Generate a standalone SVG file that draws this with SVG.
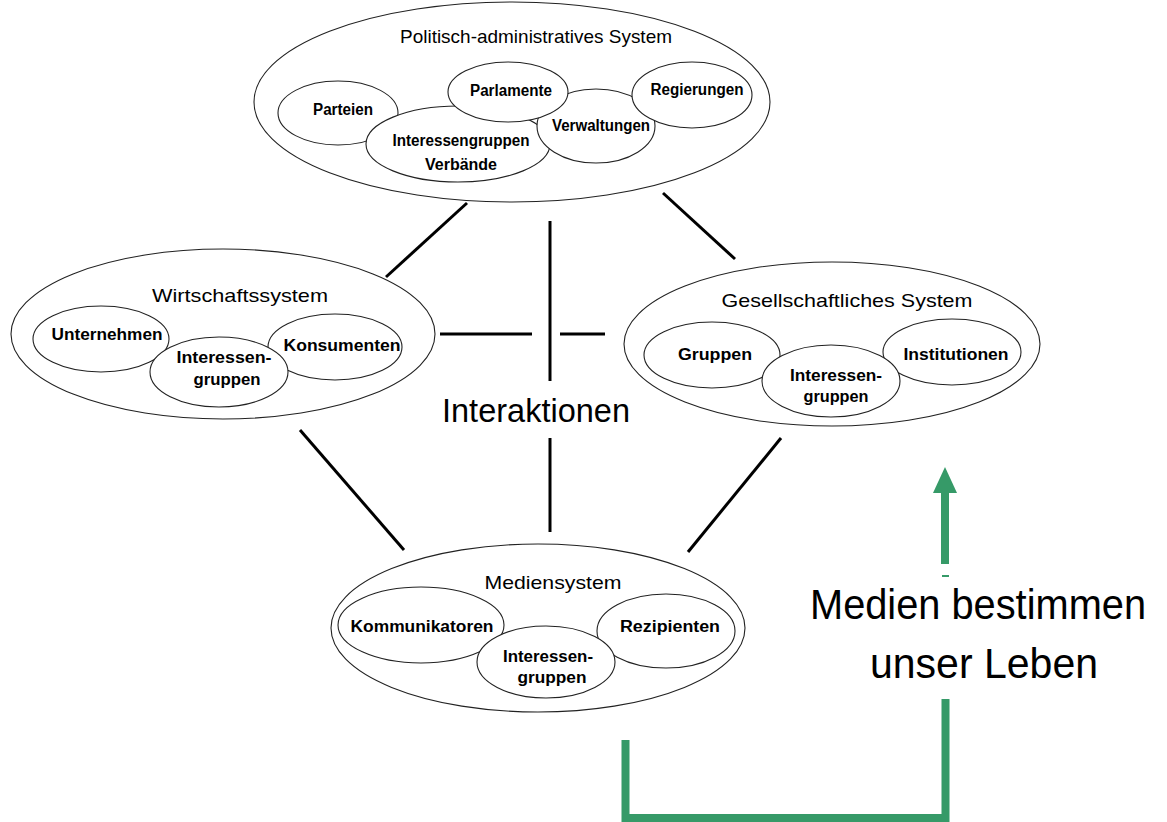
<svg xmlns="http://www.w3.org/2000/svg" width="1167" height="822" viewBox="0 0 1167 822">
  <style>
    .outer { fill: #ffffff; stroke: #222222; stroke-width: 1.1; }
    .inner { fill: #ffffff; stroke: #222222; stroke-width: 1.1; }
    .title { font-family: "Liberation Sans", Arial, sans-serif; font-size: 19px; fill: #000000; text-anchor: middle; }
    .label { font-family: "Liberation Sans", Arial, sans-serif; font-size: 16px; font-weight: bold; fill: #000000; text-anchor: middle; }
    .link { stroke: #000000; stroke-width: 3; fill: none; }
    .big { font-family: "Liberation Sans", Arial, sans-serif; fill: #000000; text-anchor: middle; }
    .green { stroke: #369a68; stroke-width: 8; fill: none; }
  </style>
  <rect width="1167" height="822" fill="#ffffff"/>

  <!-- interaction lines between the systems -->
  <g id="connectors">
    <line class="link" x1="467" y1="203" x2="386" y2="277"/>
    <line class="link" x1="663" y1="193" x2="735" y2="259"/>
    <line class="link" x1="550" y1="221" x2="550" y2="381"/>
    <line class="link" x1="440" y1="334" x2="532" y2="334"/>
    <line class="link" x1="560" y1="334" x2="605" y2="334"/>
    <line class="link" x1="550" y1="438" x2="550" y2="532"/>
    <line class="link" x1="300" y1="430" x2="404" y2="550"/>
    <line class="link" x1="781" y1="438" x2="688" y2="552"/>
  </g>

  <!-- political-administrative system -->
  <g id="politik">
    <ellipse class="outer" cx="512" cy="102" rx="258" ry="100"/>
    <text class="title" x="536" y="43" textLength="272" lengthAdjust="spacingAndGlyphs">Politisch-administratives System</text>
    <ellipse class="inner" cx="338" cy="113" rx="60" ry="32"/>
    <ellipse class="inner" cx="458" cy="144" rx="92" ry="38"/>
    <ellipse class="inner" cx="596" cy="126" rx="59" ry="37"/>
    <ellipse class="inner" cx="508" cy="92" rx="60" ry="30"/>
    <ellipse class="inner" cx="692" cy="95" rx="60" ry="33"/>
    <text class="label" x="343" y="115" textLength="60" lengthAdjust="spacingAndGlyphs">Parteien</text>
    <text class="label" x="511" y="96" textLength="82" lengthAdjust="spacingAndGlyphs">Parlamente</text>
    <text class="label" x="697" y="95" textLength="93" lengthAdjust="spacingAndGlyphs">Regierungen</text>
    <text class="label" x="461" y="146" textLength="137" lengthAdjust="spacingAndGlyphs">Interessengruppen</text>
    <text class="label" x="461" y="170" textLength="72" lengthAdjust="spacingAndGlyphs">Verbände</text>
    <text class="label" x="601" y="131" textLength="98" lengthAdjust="spacingAndGlyphs">Verwaltungen</text>
  </g>

  <!-- economic system -->
  <g id="wirtschaft">
    <ellipse class="outer" cx="223" cy="334" rx="212" ry="85"/>
    <text class="title" x="240" y="302" textLength="176" lengthAdjust="spacingAndGlyphs">Wirtschaftssystem</text>
    <ellipse class="inner" cx="101" cy="339" rx="68" ry="33"/>
    <ellipse class="inner" cx="335" cy="347" rx="67" ry="33"/>
    <ellipse class="inner" cx="219" cy="372" rx="69" ry="35"/>
    <text class="label" x="107" y="340" textLength="111" lengthAdjust="spacingAndGlyphs">Unternehmen</text>
    <text class="label" x="342" y="351" textLength="117" lengthAdjust="spacingAndGlyphs">Konsumenten</text>
    <text class="label" x="224" y="363" textLength="95" lengthAdjust="spacingAndGlyphs">Interessen-</text>
    <text class="label" x="227" y="385" textLength="67" lengthAdjust="spacingAndGlyphs">gruppen</text>
  </g>

  <!-- social system -->
  <g id="gesellschaft">
    <ellipse class="outer" cx="832" cy="344" rx="208" ry="82"/>
    <text class="title" x="847" y="307" textLength="251" lengthAdjust="spacingAndGlyphs">Gesellschaftliches System</text>
    <ellipse class="inner" cx="712" cy="355" rx="68" ry="33"/>
    <ellipse class="inner" cx="952" cy="352" rx="69" ry="33"/>
    <ellipse class="inner" cx="831" cy="381" rx="69" ry="36"/>
    <text class="label" x="715" y="360" textLength="74" lengthAdjust="spacingAndGlyphs">Gruppen</text>
    <text class="label" x="956" y="360" textLength="105" lengthAdjust="spacingAndGlyphs">Institutionen</text>
    <text class="label" x="836" y="381" textLength="92" lengthAdjust="spacingAndGlyphs">Interessen-</text>
    <text class="label" x="836" y="402" textLength="65" lengthAdjust="spacingAndGlyphs">gruppen</text>
  </g>

  <!-- media system -->
  <g id="medien">
    <ellipse class="outer" cx="538" cy="628" rx="207" ry="84"/>
    <text class="title" x="553" y="589" textLength="137" lengthAdjust="spacingAndGlyphs">Mediensystem</text>
    <ellipse class="inner" cx="421" cy="625" rx="83" ry="38"/>
    <ellipse class="inner" cx="666" cy="631" rx="69" ry="37"/>
    <ellipse class="inner" cx="546" cy="662" rx="69" ry="36"/>
    <text class="label" x="422" y="632" textLength="143" lengthAdjust="spacingAndGlyphs">Kommunikatoren</text>
    <text class="label" x="670" y="632" textLength="100" lengthAdjust="spacingAndGlyphs">Rezipienten</text>
    <text class="label" x="548" y="662" textLength="90" lengthAdjust="spacingAndGlyphs">Interessen-</text>
    <text class="label" x="552" y="683" textLength="69" lengthAdjust="spacingAndGlyphs">gruppen</text>
  </g>

  <!-- central label -->
  <g id="interaktionen">
    <text class="big" x="536" y="422" font-size="34" textLength="188" lengthAdjust="spacingAndGlyphs">Interaktionen</text>
  </g>

  <!-- green feedback arrow -->
  <g id="feedback">
    <polyline class="green" points="625.5,740 625.5,818 945.5,818 945.5,699"/>
    <line class="green" x1="945" y1="564" x2="945" y2="488"/>
    <polygon points="933,493 957,493 945,467" fill="#369a68"/>
    <rect x="942" y="575" width="7" height="2" fill="#369a68"/>
  </g>

  <g id="caption">
    <text class="big" x="978" y="619" font-size="42" textLength="336" lengthAdjust="spacingAndGlyphs">Medien bestimmen</text>
    <text class="big" x="984" y="678" font-size="42" textLength="228" lengthAdjust="spacingAndGlyphs">unser Leben</text>
  </g>
</svg>
